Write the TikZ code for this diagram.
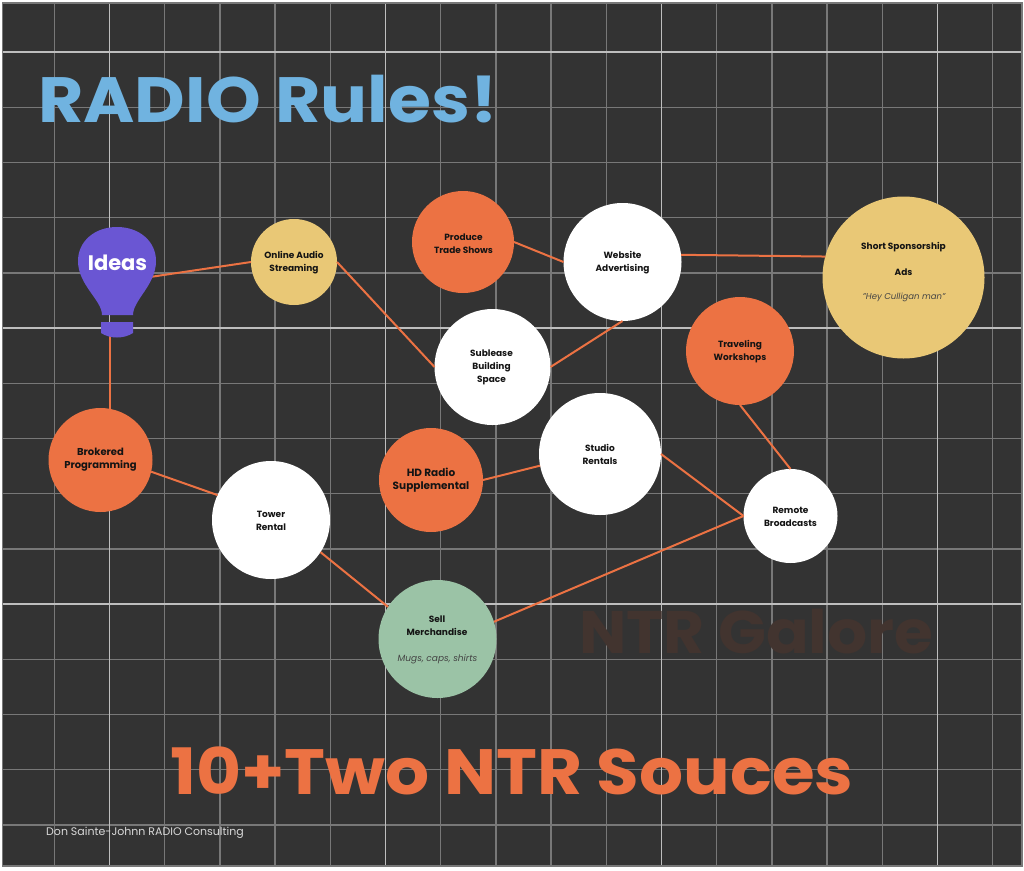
\documentclass[tikz,border=0pt]{standalone}
\usepackage{fontspec}
\setmainfont{Poppins}
\newfontfamily\widea[FakeStretch=1.088]{Poppins}
\newfontfamily\wideb[FakeStretch=1.081]{Poppins}
\newfontfamily\widec[FakeStretch=1.05]{Poppins}
\definecolor{bgc}{HTML}{333333}
\definecolor{orangec}{HTML}{EC7243}
\definecolor{yellowc}{HTML}{E9C876}
\definecolor{greenc}{HTML}{9BC3A6}
\definecolor{bluec}{HTML}{70B3E0}
\definecolor{purplec}{HTML}{6A56D3}
\definecolor{ghostc}{HTML}{42342F}
\definecolor{minorc}{HTML}{787878}
\definecolor{majorc}{HTML}{BEBEBE}
\definecolor{inkc}{HTML}{141414}
\definecolor{softc}{HTML}{444444}
\tikzset{
  minorline/.style={draw=minorc,line width=1.4pt},
  majorline/.style={draw=majorc,line width=1.6pt},
  link/.style={draw=orangec,line width=2pt},
  disc/.style={circle,inner sep=0pt,outer sep=0pt,draw=none,minimum size=#1*2pt},
  lab/.style={text=inkc,font=\fontsize{9}{13}\selectfont\bfseries,align=center,inner sep=0pt},
  note/.style={text=softc,font=\fontsize{9}{10}\selectfont\itshape,inner sep=0pt},
}
\begin{document}
\begin{tikzpicture}[x=1pt,y=-1pt]
\useasboundingbox (0,0) rectangle (1024,870);
\fill[white] (0,0) rectangle (1024,870);
\fill[bgc] (2.5,3) rectangle (1022,866);
\foreach \x in {54.2,164.6,219.8,275,330.2,440.6,495.8,551,606.2,716.6,771.8,827,882.2,992.6}
  \draw[minorline] (\x,3) -- (\x,866);
\foreach \y in {107.2,162.4,217.6,272.8,383.2,438.4,493.6,548.8,659.2,714.4,769.6,824.8}
  \draw[minorline] (2.5,\y) -- (1022,\y);
\foreach \x in {109.4,385.4,661.4,937.4}
  \draw[majorline] (\x,3) -- (\x,866);
\foreach \y in {52,328,604}
  \draw[majorline] (2.5,\y) -- (1022,\y);
\draw[minorc,line width=1.5pt] (2.5,3) rectangle (1022,866);

% discs
\node[disc=43,fill=yellowc] (online) at (294,262) {};
\node[disc=51,fill=orangec] (produce) at (463,242) {};
\node[disc=59,fill=white] (website) at (622.5,262) {};
\node[disc=81,fill=yellowc] (short) at (903.5,277.5) {};
\node[disc=54,fill=orangec] (travel) at (740,351) {};
\node[disc=58,fill=white] (sublease) at (492.5,367) {};
\node[disc=61,fill=white] (studio) at (600,454) {};
\node[disc=52,fill=orangec] (hd) at (431,480) {};
\node[disc=52,fill=orangec] (brokered) at (100.5,460) {};
\node[disc=59,fill=white] (tower) at (271,520) {};
\node[disc=47,fill=white] (remote) at (790.5,516) {};
\node[disc=59,fill=greenc] (sell) at (437.5,639) {};

% bulb
\coordinate (bulbR) at (150,277);
\coordinate (bulbB) at (110,336);
\draw[link] (bulbR) -- (online.west);
\draw[link,line width=2.4pt] (bulbB) -- (110,408.9);
\draw[link] (produce.east) -- (website.west);
\draw[link] (website.7) -- (short.165);
\draw[link] (online.east) -- (sublease.west);
\draw[link] (website.south) -- (sublease.east);
\draw[link] (travel.south) -- (remote.north);
\draw[link] (studio.191) -- (hd.east);
\draw[link] (studio.east) -- (remote.west);
\draw[link] (sell.17) -- (remote.west);
\draw[link] (brokered.-13) -- (tower.155);
\draw[link] (tower.-33) -- (sell.147);
\fill[purplec] (102,315) .. controls (102,300) and (78,285) .. (78,261)
  .. controls (78,241) and (95,227) .. (117,227)
  .. controls (139,227) and (156,241) .. (156,261)
  .. controls (156,285) and (133,300) .. (133,315) -- cycle;
\fill[purplec] (101,322) -- (133,322) -- (133,333) .. controls (124,339) and (110,339) .. (101,333) -- cycle;
\node[text=white,font=\fontsize{21}{21}\selectfont\bfseries,inner sep=0pt] (ideas) at (117.5,263) {Ideas};

% labels
\node[lab] (tonline) at (294,262.5) {Online Audio\\Streaming};
\node[lab] (tproduce) at (463.5,243.5) {Produce\\Trade Shows};
\node[lab] (twebsite) at (622.5,262.5) {Website\\Advertising};
\node[lab] (tshort) at (903.5,247) {Short Sponsorship};
\node[lab] (tads) at (903.5,272.5) {Ads};
\node[note,font=\fontsize{8.5}{10}\selectfont\itshape] (they) at (904,297.5) {"Hey Culligan man"};
\node[lab] (ttravel) at (740,351.5) {Traveling\\Workshops};
\node[lab] (tsub) at (491.5,367.5) {Sublease\\Building\\Space};
\node[lab] (tstudio) at (600,454.5) {Studio\\Rentals};
\node[lab,font=\fontsize{10.5}{13}\selectfont\bfseries] (thd) at (431,480.5) {HD Radio\\Supplemental};
\node[lab,font=\fontsize{10}{13}\selectfont\bfseries] (tbrok) at (100.5,459.5) {Brokered\\Programming};
\node[lab] (ttower) at (271,520.5) {Tower\\Rental};
\node[lab] (tremote) at (790.5,516.5) {Remote\\Broadcasts};
\node[lab] (tsell) at (437,626) {Sell\\Merchandise};
\node[note] (tmugs) at (437.5,659.5) {Mugs, caps, shirts};

% titles
\node[text=bluec,font=\widea\fontsize{64}{64}\selectfont\bfseries,inner sep=0pt,anchor=base west] (title) at (38,122) {RADIO Rules!};
\node[text=orangec,font=\wideb\fontsize{64}{64}\selectfont\bfseries,inner sep=0pt,anchor=base west] (sub) at (170,794) {10+Two NTR Souces};
\node[text=ghostc,font=\widec\fontsize{60}{60}\selectfont\bfseries,inner sep=0pt,anchor=base west] (ghost) at (579,653) {NTR Galore};
\node[text=white!85!black,font=\fontsize{11}{11}\selectfont,inner sep=0pt,anchor=base west] (credit) at (46,835) {Don Sainte-Johnn RADIO Consulting};
\end{tikzpicture}
\end{document}
